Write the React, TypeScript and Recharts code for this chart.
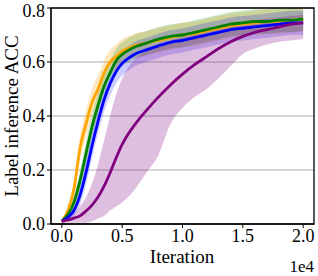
import { ComposedChart, Area, Line, XAxis, YAxis, CartesianGrid, ReferenceArea } from "recharts"

// iterations sampled along the x axis
const iterations = [0, 500, 1000, 1500, 2000, 2500, 3000, 3500, 4000, 4500, 5000, 5500, 6000, 7000, 8000, 9000, 10000, 11000, 12000, 13000, 14000, 15000, 16000, 17000, 18000, 19000, 20000]

const orangeMean = [0.01, 0.05, 0.13, 0.28, 0.37, 0.45, 0.5, 0.56, 0.6, 0.62, 0.64, 0.65, 0.66, 0.67, 0.68, 0.69, 0.7, 0.705, 0.715, 0.725, 0.735, 0.74, 0.745, 0.75, 0.75, 0.755, 0.76]
const orangeSd = [0.005, 0.015, 0.03, 0.045, 0.05, 0.05, 0.05, 0.045, 0.045, 0.045, 0.045, 0.045, 0.045, 0.045, 0.045, 0.045, 0.045, 0.045, 0.045, 0.045, 0.045, 0.045, 0.045, 0.045, 0.045, 0.045, 0.045]

const greenMean = [0.01, 0.035, 0.08, 0.16, 0.26, 0.36, 0.44, 0.51, 0.56, 0.605, 0.628, 0.643, 0.655, 0.67, 0.685, 0.695, 0.7, 0.71, 0.72, 0.73, 0.74, 0.745, 0.75, 0.75, 0.755, 0.755, 0.76]
const greenSd = [0.005, 0.012, 0.025, 0.04, 0.045, 0.045, 0.045, 0.045, 0.045, 0.045, 0.045, 0.045, 0.045, 0.045, 0.045, 0.045, 0.045, 0.045, 0.045, 0.045, 0.045, 0.045, 0.045, 0.045, 0.045, 0.045, 0.045]

const blueMean = [0.01, 0.025, 0.05, 0.105, 0.19, 0.29, 0.38, 0.46, 0.52, 0.565, 0.595, 0.613, 0.628, 0.645, 0.66, 0.673, 0.68, 0.69, 0.7, 0.71, 0.72, 0.725, 0.73, 0.735, 0.74, 0.745, 0.745]
const blueSd = [0.005, 0.01, 0.02, 0.035, 0.045, 0.045, 0.045, 0.045, 0.045, 0.045, 0.045, 0.045, 0.045, 0.045, 0.045, 0.045, 0.045, 0.045, 0.045, 0.045, 0.045, 0.045, 0.045, 0.045, 0.045, 0.045, 0.045]

const purpleMean = [0.01, 0.015, 0.022, 0.03, 0.048, 0.07, 0.1, 0.14, 0.19, 0.245, 0.295, 0.333, 0.365, 0.42, 0.47, 0.515, 0.555, 0.59, 0.62, 0.65, 0.675, 0.695, 0.71, 0.72, 0.73, 0.74, 0.745]
const purpleLow = [0.005, 0.005, 0.005, 0.005, 0.005, 0.01, 0.02, 0.03, 0.05, 0.065, 0.08, 0.1, 0.125, 0.19, 0.255, 0.37, 0.43, 0.47, 0.5, 0.54, 0.585, 0.63, 0.65, 0.665, 0.675, 0.68, 0.685]
const purpleHigh = [0.015, 0.025, 0.04, 0.065, 0.1, 0.15, 0.22, 0.31, 0.4, 0.48, 0.54, 0.58, 0.61, 0.64, 0.66, 0.68, 0.69, 0.7, 0.71, 0.725, 0.735, 0.745, 0.755, 0.76, 0.765, 0.77, 0.775]

const xTicks = [0, 5000, 10000, 15000, 20000]
const yTicks = [0, 0.2, 0.4, 0.6, 0.8]

const data = iterations.map((x, i) => ({
  x,
  orange: orangeMean[i],
  orangeBand: [orangeMean[i] - orangeSd[i], orangeMean[i] + orangeSd[i]],
  green: greenMean[i],
  greenBand: [greenMean[i] - greenSd[i], greenMean[i] + greenSd[i]],
  blue: blueMean[i],
  blueBand: [blueMean[i] - blueSd[i], blueMean[i] + blueSd[i]],
  purple: purpleMean[i],
  purpleBand: [purpleLow[i], purpleHigh[i]],
}))

const font = "'Liberation Serif', 'Times New Roman', serif"
const tickStyle = { fontFamily: font, fontSize: 18, fill: "#000" }

export default function App() {
  return (
    <div style={{ position: "absolute", left: 0, top: 0 }}>
      <ComposedChart width={318} height={276} data={data} margin={{ top: 8, right: 4, left: 0, bottom: 0 }}>
        <CartesianGrid vertical={false} stroke="#b0b0b0" strokeWidth={1.2} />
        <XAxis
          dataKey="x"
          type="number"
          domain={[-900, 20900]}
          allowDataOverflow
          ticks={xTicks}
          tickFormatter={(v: number) => (v / 10000).toFixed(1)}
          height={52}
          tickSize={4}
          tickMargin={1}
          stroke="#000"
          tick={tickStyle}
        />
        <YAxis
          type="number"
          domain={[0, 0.8]}
          allowDataOverflow
          ticks={yTicks}
          tickFormatter={(v: number) => v.toFixed(1)}
          width={51}
          tickSize={4}
          tickMargin={2}
          stroke="#000"
          tick={tickStyle}
        />
        <Area dataKey="orangeBand" type="monotone" stroke="none" fill="#ffa500" fillOpacity={0.25} isAnimationActive={false} />
        <Area dataKey="greenBand" type="monotone" stroke="none" fill="#008000" fillOpacity={0.2} isAnimationActive={false} />
        <Area dataKey="blueBand" type="monotone" stroke="none" fill="#0000ff" fillOpacity={0.2} isAnimationActive={false} />
        <Area dataKey="purpleBand" type="monotone" stroke="none" fill="#800080" fillOpacity={0.25} isAnimationActive={false} />
        <Line dataKey="orange" type="monotone" stroke="#ffa500" strokeWidth={2.8} dot={false} isAnimationActive={false} />
        <Line dataKey="green" type="monotone" stroke="#008000" strokeWidth={2.8} dot={false} isAnimationActive={false} />
        <Line dataKey="blue" type="monotone" stroke="#0000ff" strokeWidth={2.8} dot={false} isAnimationActive={false} />
        <Line dataKey="purple" type="monotone" stroke="#800080" strokeWidth={2.8} dot={false} isAnimationActive={false} />
        <ReferenceArea x1={-900} x2={20900} y1={0} y2={0.8} fill="none" stroke="#000" strokeWidth={1.3} ifOverflow="visible" />
        <text x={11} y={116} transform="rotate(-90 11 116)" textAnchor="middle" dominantBaseline="central" fontFamily={font} fontSize={19} fill="#000">
          Label inference ACC
        </text>
        <text x={182} y={263} textAnchor="middle" fontFamily={font} fontSize={19} fill="#000">
          Iteration
        </text>
        <text x={314} y={272} textAnchor="end" fontFamily={font} fontSize={17} fill="#000">
          1e4
        </text>
      </ComposedChart>
    </div>
  )
}
